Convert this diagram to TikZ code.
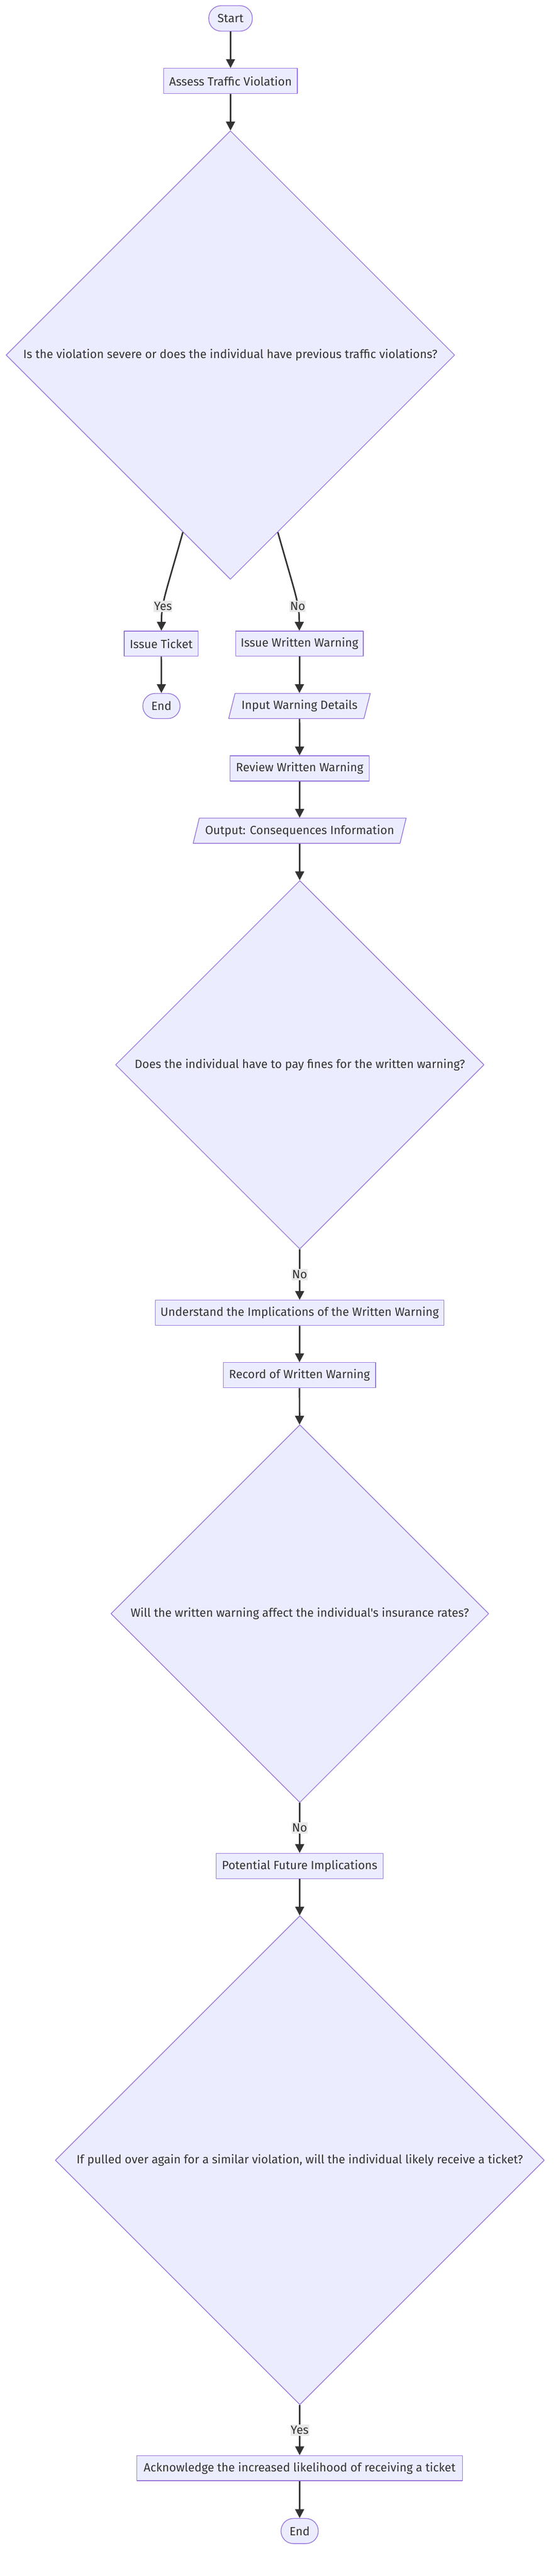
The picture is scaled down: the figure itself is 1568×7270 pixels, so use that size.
\documentclass[tikz,border=0pt]{standalone}
\usepackage{fontspec}
\newfontfamily\diagfont{Fira Sans}
\usepackage{xcolor}
\usetikzlibrary{arrows.meta,shapes.geometric}
\definecolor{nodefill}{HTML}{ECECFF}
\definecolor{nodeline}{HTML}{9370DB}
\definecolor{edgeline}{HTML}{333333}
\definecolor{lblfill}{HTML}{E8E8E8}

\begin{document}
\begin{tikzpicture}[line cap=round,line join=round,x=1pt,y=1pt,
  box/.style={draw=nodeline,fill=nodefill,line width=2pt,text=edgeline,minimum height=71pt,inner sep=0pt,font=\diagfont\fontsize{33.5}{40}\selectfont},
  term/.style={box,rounded corners=35pt},
  io/.style={box,trapezium,trapezium left angle=64,trapezium right angle=116,trapezium stretches=true},
  decision/.style={box,diamond,aspect=1},
  flow/.style={-{Triangle[length=25pt,width=25pt]},line width=4.3pt,draw=edgeline,line cap=butt},
  lbl/.style={fill=lblfill,text=edgeline,inner xsep=1pt,inner ysep=4pt,font=\diagfont\fontsize{33.5}{40}\selectfont}]

\useasboundingbox (0,0) rectangle (1568,-7270);

\node[term,minimum width=123pt,minimum height=72pt] (start) at (650.5,-52) {Start};
\node[box,minimum width=377pt] (assess) at (650.5,-228.5) {Assess Traffic Violation};
\node[decision,minimum width=1266pt,minimum height=1266pt] (d1) at (650,-1002) {Is the violation severe or does the individual have previous traffic violations?};
\node[box,minimum width=209pt] (ticket) at (455,-1816.5) {Issue Ticket};
\node[term,minimum width=105pt] (end1) at (455.5,-1992.5) {End};
\node[box,minimum width=360pt] (warn) at (845,-1816.5) {Issue Written Warning};
\node[io,minimum width=402pt] (details) at (845,-1992.5) {Input Warning Details};
\node[box,minimum width=393pt] (review) at (845.5,-2168.5) {Review Written Warning};
\node[io,minimum width=605pt] (output) at (845.5,-2344.5) {Output: Consequences Information};
\node[decision,minimum width=1040pt,minimum height=1040pt] (d2) at (846,-3005) {Does the individual have to pay fines for the written warning?};
\node[box,minimum width=815pt] (implic) at (845.5,-3705) {Understand the Implications of the Written Warning};
\node[box,minimum width=430pt] (record) at (845,-3881) {Record of Written Warning};
\node[decision,minimum width=1066pt,minimum height=1066pt] (d3) at (846,-4554) {Will the written warning affect the individual's insurance rates?};
\node[box,minimum width=471pt] (future) at (845.5,-5266) {Potential Future Implications};
\node[decision,minimum width=1380pt,minimum height=1380pt] (d4) at (846,-6096.5) {If pulled over again for a similar violation, will the individual likely receive a ticket?};
\node[box,minimum width=919pt] (ack) at (845.5,-6965.5) {Acknowledge the increased likelihood of receiving a ticket};
\node[term,minimum width=105pt] (end2) at (845.5,-7143) {End};

\draw[flow] (start) -- (assess);
\draw[flow] (assess) -- (d1);
\draw[flow] (d1.-105) .. controls (463,-1690) and (456,-1700) .. node[lbl,pos=0.65] {Yes} (ticket);
\draw[flow] (d1.-75) .. controls (837,-1690) and (844,-1700) .. node[lbl,pos=0.65] {No} (warn);
\draw[flow] (ticket) -- (end1);
\draw[flow] (warn) -- (details);
\draw[flow] (details) -- (review);
\draw[flow] (review) -- (output);
\draw[flow] (output) -- (d2);
\draw[flow] (d2) -- node[lbl] {No} (implic);
\draw[flow] (implic) -- (record);
\draw[flow] (record) -- (d3);
\draw[flow] (d3) -- node[lbl] {No} (future);
\draw[flow] (future) -- (d4);
\draw[flow] (d4) -- node[lbl] {Yes} (ack);
\draw[flow] (ack) -- (end2);
\end{tikzpicture}
\end{document}
